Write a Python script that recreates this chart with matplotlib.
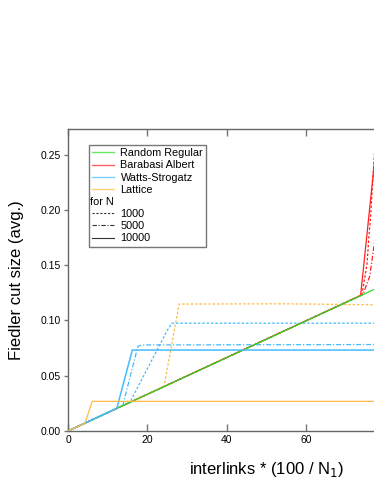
import matplotlib
matplotlib.use("Agg")
import matplotlib.pyplot as plt
from matplotlib.lines import Line2D
from matplotlib.text import Text

plt.rcParams['font.family'] = ['Liberation Sans', 'DejaVu Sans']

# Random Regular (same curve for all N)
rr_x = [0, 80]
rr_y = [0, 0.1328]

# Barabasi Albert
ba_x_10000 = [0, 73.7, 77.4]
ba_y_10000 = [0, 0.1225, 0.250]
ba_x_1000 = [0, 74.0, 75.3, 75.8, 76.2, 77.6]
ba_y_1000 = [0, 0.1230, 0.150, 0.176, 0.193, 0.275]
ba_x_5000 = [0, 74.3, 76.0, 77.1, 78.0]
ba_y_5000 = [0, 0.1235, 0.140, 0.168, 0.20]

# Watts-Strogatz
ws_x_10000 = [0, 12.3, 16.2, 80]
ws_y_10000 = [0, 0.0205, 0.0732, 0.0732]
ws_x_5000 = [0, 13.8, 17.6, 18.5, 80]
ws_y_5000 = [0, 0.0230, 0.0765, 0.0778, 0.0782]
ws_x_1000 = [0, 15.6, 25.0, 26.2, 80]
ws_y_1000 = [0, 0.0260, 0.0910, 0.0975, 0.0975]

# Lattice
la_x_10000 = [0, 4.3, 6.1, 80]
la_y_10000 = [0, 0.0072, 0.0268, 0.0268]
la_x_1000 = [0, 24.2, 28.0, 55, 80]
la_y_1000 = [0, 0.0403, 0.1148, 0.1150, 0.1140]

models = ['Random Regular', 'Barabasi Albert', 'Watts-Strogatz', 'Lattice']
colors = ['#22dd22', '#ff2020', '#44bbff', '#ffbb44']
sizes = ['1000', '5000', '10000']
styles = [(0, (2, 1.5)), (0, (4, 1.5, 1, 1.5)), '-']

fig = plt.figure(figsize=(3.74, 4.84), dpi=100)
ax = fig.add_axes([68 / 374, 53 / 484, 397 / 374, 301.7 / 484])

lw = 0.9
ax.plot(ba_x_10000, ba_y_10000, color=colors[1], lw=lw, zorder=1)
ax.plot(ba_x_1000, ba_y_1000, color=colors[1], lw=lw, ls=styles[0], zorder=1)
ax.plot(ba_x_5000, ba_y_5000, color=colors[1], lw=lw, ls=styles[1], zorder=1)
ax.plot(la_x_1000, la_y_1000, color=colors[3], lw=lw, ls=styles[0], zorder=1.5)
ax.plot(ws_x_1000, ws_y_1000, color=colors[2], lw=lw, ls=styles[0], zorder=1.5)
ax.plot(ws_x_5000, ws_y_5000, color=colors[2], lw=lw, ls=styles[1], zorder=1.5)
ax.plot(rr_x, rr_y, color=colors[0], lw=lw, zorder=2)
ax.plot(ws_x_10000, ws_y_10000, color=colors[2], lw=1.1, zorder=3)
ax.plot(la_x_10000, la_y_10000, color=colors[3], lw=lw, zorder=4)

ax.set_xlim(0, 100)
ax.set_ylim(0, 0.2728)
ax.set_xticks([0, 20, 40, 60])
ax.set_yticks([0, 0.05, 0.10, 0.15, 0.20, 0.25])
ax.set_yticklabels(['%.2f' % v for v in ax.get_yticks()])
ax.tick_params(axis='x', direction='in', top=True, length=5, width=1,
               color='#777777', labelsize=7.5, pad=3)
ax.tick_params(axis='y', direction='out', length=3, width=1,
               color='#777777', labelsize=7.5, pad=2)
for s in ax.spines.values():
    s.set_color('#666666')
    s.set_linewidth(1)

ax.set_xlabel('interlinks * (100 / N$_1$)', fontsize=12, labelpad=11)
ax.set_ylabel('Fiedler cut size (avg.)', fontsize=12, labelpad=12)


class TextHandler:
    def legend_artist(self, legend, orig_handle, fontsize, handlebox):
        t = Text(handlebox.xdescent - 2, handlebox.ydescent, orig_handle.get_label(),
                 fontsize=fontsize, va='baseline', ha='left')
        handlebox.add_artist(t)
        return t


class Header(Line2D):
    pass


handles = [Line2D([], [], color=c, lw=1, alpha=0.7) for c in colors]
labels = list(models)
hdr = Header([], [], label='for N')
handles.append(hdr)
labels.append('')
for st, n in zip(styles, sizes):
    handles.append(Line2D([], [], color='#333333', lw=0.8, ls=st))
    labels.append(n)

leg = ax.legend(handles, labels, loc='upper left', bbox_to_anchor=(0.053, 0.948),
                borderaxespad=0, fontsize=7.8, frameon=True, fancybox=False,
                handlelength=2.0, handletextpad=0.6, labelspacing=0.2,
                borderpad=0.3, handler_map={Header: TextHandler()})
leg.get_frame().set_edgecolor('#555555')
leg.get_frame().set_linewidth(1)

fig.savefig('out.png', dpi=100)
